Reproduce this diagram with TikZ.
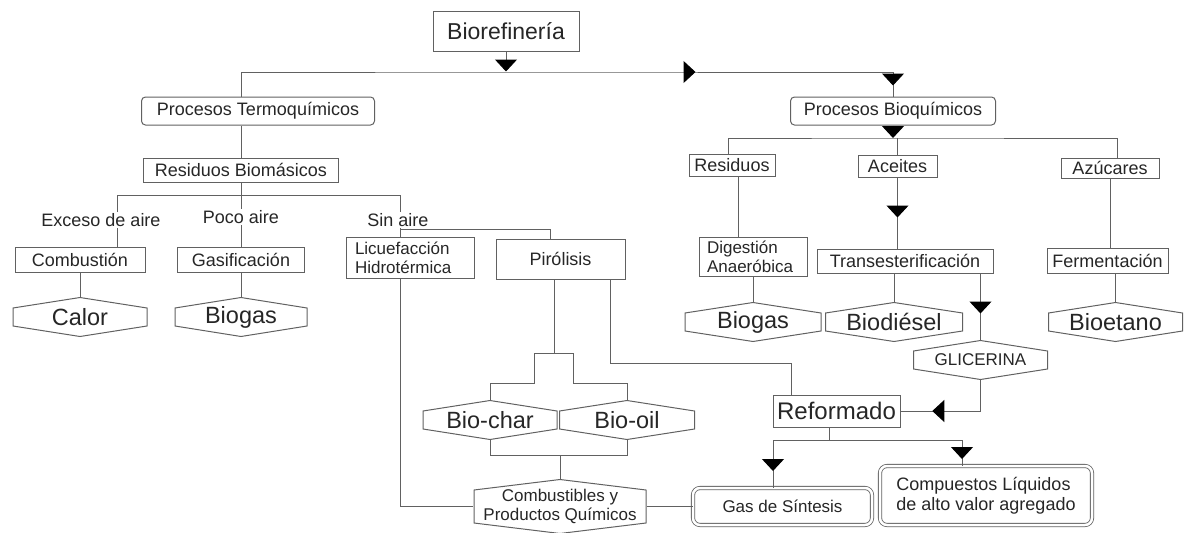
\documentclass[tikz,border=0pt]{standalone}
\usepackage{fontspec}
\setmainfont{Liberation Sans}
\usetikzlibrary{arrows.meta,decorations.markings,positioning}
\definecolor{ink}{gray}{0.15}
\definecolor{wire}{gray}{0.38}
\tikzstyle{block} = [rectangle, draw=wire, line width=1pt, text=ink, inner sep=0pt,
  font=\fontsize{18}{20}\selectfont]
\tikzstyle{branch} = [block, rounded corners=4pt]
\tikzstyle{cond} = [text=ink, inner sep=1pt, font=\fontsize{18}{20}\selectfont]
\tikzstyle{yield} = [rectangle, inner sep=0pt, text=ink, minimum width=135pt,
  minimum height=40pt, font=\fontsize{23.5}{26}\selectfont, path picture={
  \draw[wire, line width=1pt]
    ([xshift=.5pt,yshift=-11pt]path picture bounding box.north west)
    -- ([yshift=-.5pt]path picture bounding box.north)
    -- ([xshift=-.5pt,yshift=-11pt]path picture bounding box.north east)
    -- ([xshift=-.5pt,yshift=11pt]path picture bounding box.south east)
    -- ([yshift=.5pt]path picture bounding box.south)
    -- ([xshift=.5pt,yshift=11pt]path picture bounding box.south west) -- cycle;}]
\tikzstyle{final} = [rectangle, draw=wire, line width=0.8pt, double, double distance=2.5pt,
  rounded corners=7pt, text=ink, inner sep=0pt, font=\fontsize{17}{20}\selectfont]
\tikzstyle{flow} = [draw=wire, line width=1pt]
\tikzset{tri/.tip={Triangle[width=22pt,length=12pt,color=black]},
  tipat/.style={postaction={decorate,decoration={markings,
    mark=at position #1 with {\arrow{tri}}}}}}

\begin{document}
\begin{tikzpicture}[x=1pt, y=-1pt]
    \useasboundingbox (0,0) rectangle (1184,533);

    % top
    \node[block, minimum width=146pt, minimum height=40pt, font=\fontsize{23}{26}\selectfont] (bio) at (506,31) {Biorefinería};
    \node[branch, minimum width=233pt, minimum height=28pt] (termo) at (258,111) {Procesos Termoquímicos};
    \node[branch, minimum width=205pt, minimum height=28pt] (bioq) at (893,111) {Procesos Bioquímicos};
    \coordinate (tbar) at (506,72);
    \coordinate (bqbar) at (893,138);

    % termoquimicos
    \node[block, minimum width=195pt, minimum height=24pt] (resbm) at (241,170) {Residuos Biomásicos};
    \coordinate (jexc) at (117,195);
    \coordinate (jsin) at (400,195);
    \coordinate (jpir) at (400,229);
    \node[cond] (exceso) at (101,220) {Exceso de aire};
    \node[cond, below of=resbm, node distance=47pt] (poco) {Poco aire};
    \node[cond] (sinaire) at (398,220) {Sin aire};
    \node[block, minimum width=130pt, minimum height=25pt] (comb) at (80,259.5) {Combustión};
    \node[block, minimum width=127pt, minimum height=25pt, below of=poco, node distance=42.5pt] (gasif) {Gasificación};
    \node[yield, below of=comb, node distance=57.5pt] (calor) {Calor};
    \node[yield, minimum width=133pt, below of=gasif, node distance=57.5pt] (biogasa) {Biogas};
    \node[block, text width=110pt, inner xsep=9pt, minimum height=41pt, align=left,
      font=\fontsize{17}{19}\selectfont] (licu) at (410,257.5) {Licuefacción\\Hidrotérmica};
    \node[block, minimum width=129pt, minimum height=40pt] (piro) at (560.5,259) {Pirólisis};
    \node[yield] (bchar) at (490,420) {Bio-char};
    \node[yield, minimum width=136pt, right of=bchar, node distance=137pt] (boil) {Bio-oil};
    \node[yield, minimum width=173pt, minimum height=55pt, align=center,
      font=\fontsize{17}{18.5}\selectfont] (combprod) at (560,506.5) {Combustibles y\\Productos Químicos};
    \node[final, minimum width=179pt, minimum height=37pt, right of=combprod, node distance=222.5pt] (gas) {Gas de Síntesis};
    \node[block, minimum width=127pt, minimum height=32pt, font=\fontsize{24}{26}\selectfont] (refo) at (836.5,411) {Reformado};
    \node[final, minimum width=212pt, minimum height=59pt, align=left,
      font=\fontsize{18}{20}\selectfont] (comp) at (986,495.5) {Compuestos Líquidos\\de alto valor agregado};

    % bioquimicos
    \node[block, minimum width=86pt, minimum height=22pt] (resid) at (732,165) {Residuos};
    \node[block, minimum width=79pt, minimum height=22pt] (acei) at (897.5,166) {Aceites};
    \node[block, minimum width=98pt, minimum height=20pt] (azuc) at (1110,168) {Azúcares};
    \node[block, text width=92pt, inner xsep=8pt, minimum height=39pt, align=left,
      font=\fontsize{17}{19}\selectfont] (dig) at (753,256.5) {Digestión\\Anaeróbica};
    \node[block, minimum width=176pt, minimum height=24pt] (trans) at (905,261) {Transesterificación};
    \node[block, minimum width=121pt, minimum height=25pt] (ferm) at (1107.5,260.5) {Fermentación};
    \node[yield, minimum width=137pt, below of=dig, node distance=65.5pt] (biogasb) {Biogas};
    \node[yield, minimum width=138pt] (biod) at (894,322) {Biodiésel};
    \node[yield] (bioe) at (1115.5,322) {Bioetano};
    \node[yield, font=\fontsize{17}{19}\selectfont] (glic) at (980.5,360) {GLICERINA};

    % connectors
    \path[flow, -{tri}] (bio.south) -- ++(0,20);
    \path[flow, tipat=479pt, tipat=690pt] (termo.north -| resbm.north) |- (tbar) -| (bioq.north);
    \path[flow, -{tri}] (bioq.south) -- (bqbar);
    \path[flow] ([xshift=-4pt]resid.north) |- (bqbar) -| ([xshift=7pt]azuc.north);
    \path[flow] (acei.north) -- (acei.north |- bqbar);
    \path[flow] (termo.south -| resbm.north) -- (resbm.north);
    \path[flow] (resbm.south) -- (poco.north);
    \path[flow] (jexc |- exceso.north) -- (jexc) -- (jsin) -- (jsin |- sinaire.north);
    \path[flow] (exceso.south -| jexc) -- (comb.north -| jexc);
    \path[flow] (poco.south) -- (gasif.north);
    \path[flow] (sinaire.south -| jsin) -- (licu.north -| jsin);
    \path[flow] (jpir) -| ([xshift=-10pt]piro.north);
    \path[flow] (comb.south) -- (calor.north);
    \path[flow] (gasif.south) -- (biogasa.north);
    \path[flow] (licu.south -| jsin) |- (combprod.west);
    \path[flow] ([xshift=-6pt]piro.south) -- ++(0,74) -| ++(-20,30) -| (bchar.north);
    \path[flow] ([xshift=-6pt]piro.south) -- ++(0,74) -| ++(19,30) -| (boil.north);
    \path[flow] ([xshift=50pt]piro.south) -- ++(0,84) -| ([xshift=-45pt]refo.north);
    \path[flow] (bchar.south) -- ++(0,15) -| (boil.south);
    \path[flow] (combprod.north) -- ++(0,-24);
    \path[flow] (combprod.east) -- (gas.west);
    \path[flow, tipat=100pt] ([xshift=-7pt]refo.south) -- ++(0,13) -| ([xshift=-9.5pt]gas.north);
    \path[flow, tipat=164pt] ([xshift=-7pt]refo.south) -- ++(0,13) -| ([xshift=-24pt]comp.north);
    \path[flow, tipat=79pt] (glic.south) |- (refo.east);
    \path[flow] ([xshift=6pt]resid.south) -- ([xshift=6pt]resid.south |- dig.north);
    \path[flow, tipat=40pt] (acei.south) -- (acei.south |- trans.north);
    \path[flow] (azuc.south) -- (azuc.south |- ferm.north);
    \path[flow] (dig.south) -- (biogasb.north);
    \path[flow] (biod.north |- trans.south) -- (biod.north);
    \path[flow, tipat=40pt] (glic.north |- trans.south) -- (glic.north);
    \path[flow] (bioe.north |- ferm.south) -- (bioe.north);
  \end{tikzpicture}
\end{document}
